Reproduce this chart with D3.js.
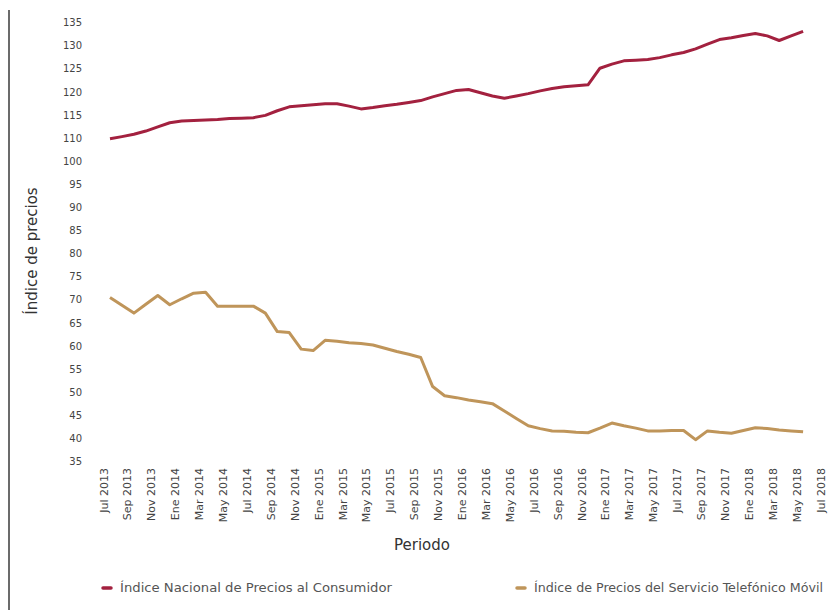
<!DOCTYPE html>
<html>
<head>
<meta charset="utf-8">
<script src="https://cdn.jsdelivr.net/npm/d3@7"></script>
<style>
  html, body { margin: 0; padding: 0; background: #fff; }
  svg { display: block; }
  .tick text { font-family: "DejaVu Sans", sans-serif; fill: #444; }
</style>
</head>
<body>
<svg id="chart" width="832" height="610"></svg>
<script>
// Bimonthly axis labels, Jul 2013 – Jul 2018
const tickLabels = ["Jul 2013","Sep 2013","Nov 2013","Ene 2014","Mar 2014","May 2014","Jul 2014","Sep 2014",
  "Nov 2014","Ene 2015","Mar 2015","May 2015","Jul 2015","Sep 2015","Nov 2015","Ene 2016","Mar 2016",
  "May 2016","Jul 2016","Sep 2016","Nov 2016","Ene 2017","Mar 2017","May 2017","Jul 2017","Sep 2017",
  "Nov 2017","Ene 2018","Mar 2018","May 2018","Jul 2018"];

// Y axis tick values as printed on the chart
const yTicks = [35,40,45,50,55,60,65,70,75,80,85,90,95,100,110,115,120,125,130,135];

// Monthly series, Jul 2013 – May 2018
const inpc = [109.7,110.3,110.8,111.5,112.4,113.3,113.7,113.8,113.9,114.0,114.2,114.3,114.4,114.9,115.9,
  116.75,117.0,117.2,117.4,117.4,116.9,116.3,116.6,117.0,117.3,117.7,118.1,118.9,119.6,120.3,120.5,119.8,
  119.1,118.6,119.1,119.6,120.2,120.7,121.1,121.3,121.5,125.1,126.0,126.7,126.85,127.0,127.4,128.0,128.5,
  129.3,130.3,131.3,131.7,132.2,132.6,132.1,131.1,132.1,133.1];

const movil = [70.5,68.8,67.1,69.0,70.9,68.9,70.2,71.4,71.6,68.6,68.6,68.6,68.6,67.1,63.1,62.9,59.3,59.0,
  61.2,61.0,60.7,60.5,60.2,59.5,58.8,58.2,57.5,51.2,49.2,48.8,48.3,47.9,47.5,45.9,44.3,42.7,42.1,41.6,41.5,
  41.3,41.2,42.2,43.3,42.7,42.2,41.6,41.6,41.7,41.7,39.7,41.6,41.3,41.1,41.7,42.3,42.1,41.8,41.6,41.4];

const seriesNames = ["Índice Nacional de Precios al Consumidor", "Índice de Precios del Servicio Telefónico Móvil"];
const seriesColors = ["#a3213f", "#bf955a"];

const svg = d3.select("#chart");

// Month index 0 = Jul 2013, 60 = Jul 2018
const x = d3.scaleLinear().domain([0, 60]).range([110, 827]);

// Printed labels are evenly spaced, with the 100→110 step sharing one interval
const y = d3.scaleLinear()
  .domain([35, 100, 110, 135])
  .range([461.4, 461.4 - 13 * 23.1, 461.4 - 14 * 23.1, 461.4 - 19 * 23.1]);

// Left frame rule
svg.append("line")
  .attr("x1", 9).attr("x2", 9).attr("y1", 10).attr("y2", 610)
  .attr("stroke", "#3a3a3a").attr("stroke-width", 1.5);

// Y axis
const yAxis = svg.append("g")
  .attr("transform", "translate(82,0)")
  .call(d3.axisLeft(y).tickValues(yTicks).tickSize(0).tickPadding(0).tickFormat(d3.format("d")));
yAxis.select(".domain").remove();
yAxis.selectAll("text").style("font-size", "10px");

// X axis labels, rotated
const xAxis = svg.append("g")
  .attr("transform", "translate(0,468)")
  .call(d3.axisBottom(x).tickValues(d3.range(0, 61, 2)).tickSize(0)
    .tickFormat((d, i) => tickLabels[i]));
xAxis.select(".domain").remove();
xAxis.selectAll("text")
  .style("font-size", "11px")
  .attr("text-anchor", "end")
  .attr("transform", "rotate(-90)")
  .attr("x", 0).attr("y", 0).attr("dy", "-3px");

// Axis titles
svg.append("text")
  .attr("transform", "translate(37,251) rotate(-90)")
  .attr("text-anchor", "middle")
  .style("font-family", "DejaVu Sans, sans-serif")
  .style("font-size", "15px").style("fill", "#333")
  .text("Índice de precios");

svg.append("text")
  .attr("x", 422).attr("y", 550)
  .attr("text-anchor", "middle")
  .style("font-family", "DejaVu Sans, sans-serif")
  .style("font-size", "15px").style("fill", "#333")
  .text("Periodo");

// Lines
const line = d3.line().x((d, i) => x(i)).y(d => y(d));
[inpc, movil].forEach((s, k) => {
  svg.append("path")
    .datum(s)
    .attr("d", line)
    .attr("fill", "none")
    .attr("stroke", seriesColors[k])
    .attr("stroke-width", 3)
    .attr("stroke-linejoin", "round");
});

// Legend
const legendX = [103, 517];
const legendW = [272, 289];
seriesNames.forEach((name, k) => {
  const g = svg.append("g").attr("transform", `translate(${legendX[k]},588)`);
  g.append("line")
    .attr("x1", 0).attr("x2", 8).attr("y1", 0).attr("y2", 0)
    .attr("stroke", seriesColors[k]).attr("stroke-width", 3.5).attr("stroke-linecap", "round");
  g.append("text")
    .attr("x", 17).attr("y", 0).attr("dy", "0.35em")
    .style("font-family", "DejaVu Sans Condensed, DejaVu Sans, sans-serif")
    .style("font-size", "12.5px").style("fill", "#555")
    .attr("textLength", legendW[k]).attr("lengthAdjust", "spacingAndGlyphs")
    .text(name);
});
</script>
</body>
</html>
